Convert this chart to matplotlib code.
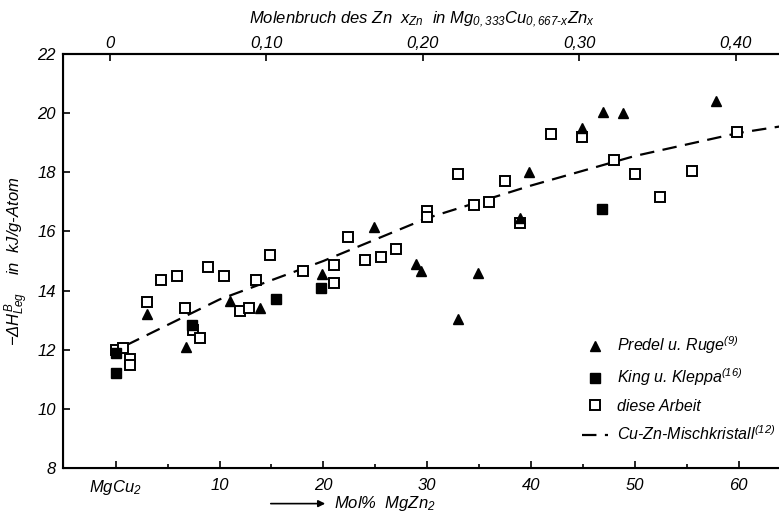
import matplotlib
matplotlib.use("Agg")
import matplotlib.pyplot as plt

# Data
predel_x = [3.0, 6.8, 11.0, 13.9, 19.9, 24.9, 28.9, 29.4, 33.0, 34.9, 38.9, 39.8, 44.9, 46.9, 48.9, 57.8]
predel_y = [13.2, 12.1, 13.65, 13.4, 14.55, 16.15, 14.9, 14.65, 13.05, 14.6, 16.45, 18.0, 19.5, 20.05, 20.0, 20.4]

king_x = [0.0, 0.0, 7.3, 15.4, 19.8, 46.85]
king_y = [11.9, 11.2, 12.85, 13.7, 14.1, 16.75]

arbeit_x = [0.0, 0.7, 1.4, 1.4, 3.0, 4.4, 5.9, 6.7, 7.4, 8.1, 8.9, 10.4, 12.0, 12.8, 13.5,
            14.9, 18.0, 21.0, 21.0, 22.4, 24.0, 25.6, 27.0, 30.0, 30.0, 33.0, 34.5, 36.0,
            37.5, 38.9, 41.9, 44.9, 48.0, 50.0, 52.4, 55.5, 59.9]
arbeit_y = [12.0, 12.05, 11.7, 11.5, 13.6, 14.35, 14.5, 13.4, 12.65, 12.4, 14.8, 14.5, 13.3, 13.4, 14.35,
            15.2, 14.65, 14.85, 14.25, 15.8, 15.05, 15.15, 15.4, 16.7, 16.5, 17.95, 16.9, 17.0,
            17.7, 16.3, 19.3, 19.2, 18.4, 17.95, 17.15, 18.05, 19.35]

cuzn_x = [1, 10, 20, 30, 40, 50, 60, 64]
cuzn_y = [12.15, 13.7, 15.0, 16.45, 17.55, 18.55, 19.33, 19.55]

bottom_ticks = [0, 10, 20, 30, 40, 50, 60]
bottom_labels = ["MgCu$_2$", "10", "20", "30", "40", "50", "60"]
top_ticks = [0, 0.10, 0.20, 0.30, 0.40]
top_labels = ["0", "0,10", "0,20", "0,30", "0,40"]
y_ticks = [8, 10, 12, 14, 16, 18, 20, 22]

plt.rcParams["font.family"] = "Liberation Sans"
plt.rcParams["font.style"] = "italic"
plt.rcParams["mathtext.fontset"] = "custom"
plt.rcParams["mathtext.rm"] = "Liberation Sans:italic"
plt.rcParams["mathtext.it"] = "Liberation Sans:italic"

fig = plt.figure(figsize=(7.79, 5.16), dpi=100)
ax = fig.add_axes([63 / 779, 48 / 516, 716 / 779, 414 / 516])

ax.plot(cuzn_x, cuzn_y, color="black", lw=1.6, linestyle=(0, (6.5, 3.8)),
        label="Cu-Zn-Mischkristall$^{(12)}$", zorder=2)
ax.plot(arbeit_x, arbeit_y, "s", ms=7, mfc="white", mec="black", mew=1.4,
        linestyle="none", label="diese Arbeit", zorder=3)
ax.plot(king_x, king_y, "s", ms=7, color="black", linestyle="none",
        label="King u. Kleppa$^{(16)}$", zorder=4)
ax.plot(predel_x, predel_y, "^", ms=6.5, color="black", linestyle="none",
        label="Predel u. Ruge$^{(9)}$", zorder=4)

ax.set_xlim(-5.08, 63.9)
ax.set_ylim(8, 22)
ax.set_xticks(bottom_ticks)
ax.set_xticklabels(bottom_labels)
ax.set_xticks([5, 15, 25, 35, 45, 55], minor=True)
ax.set_yticks(y_ticks)
ax.tick_params(axis="both", which="major", direction="in", length=5, width=1.2,
               labelsize=12, pad=7)
ax.tick_params(axis="x", which="minor", direction="in", length=3, width=1.2)
ax.tick_params(axis="y", pad=5)

for side in ["left", "bottom", "top"]:
    ax.spines[side].set_linewidth(1.5)
ax.spines["right"].set_visible(False)

ax2 = ax.twiny()
ax2.set_xlim(-0.030, 0.4275)
ax2.set_xticks(top_ticks)
ax2.set_xticklabels(top_labels)
ax2.tick_params(axis="x", direction="in", length=5, width=1.2, labelsize=12, pad=2)
ax2.spines["right"].set_visible(False)
ax2.spines["top"].set_linewidth(1.5)

ax.set_ylabel(r"$-\Delta H^{B}_{Leg}$    in  kJ/g-Atom", fontsize=12, labelpad=5)

fig.text(0.542, 0.962,
         r"Molenbruch des Zn  $x_{Zn}$  in Mg$_{0,333}$Cu$_{0,667\text{-}x}$Zn$_x$",
         ha="center", va="center", fontsize=12)

# bottom axis title with arrow
ax.annotate("", xy=(328 / 779, 0.024), xytext=(268 / 779, 0.024),
            xycoords="figure fraction",
            arrowprops=dict(arrowstyle="-|>", color="black", lw=1.2, mutation_scale=10))
fig.text(334 / 779, 0.024, "Mol%  MgZn$_2$", ha="left", va="center", fontsize=12)

handles, labels = ax.get_legend_handles_labels()
order = [3, 2, 1, 0]
ax.legend([handles[i] for i in order], [labels[i] for i in order],
          loc="lower left", bbox_to_anchor=(0.705, 0.025), frameon=False,
          fontsize=11.5, handlelength=1.6, handletextpad=0.6, labelspacing=0.66)

fig.savefig("out.png", dpi=100)
